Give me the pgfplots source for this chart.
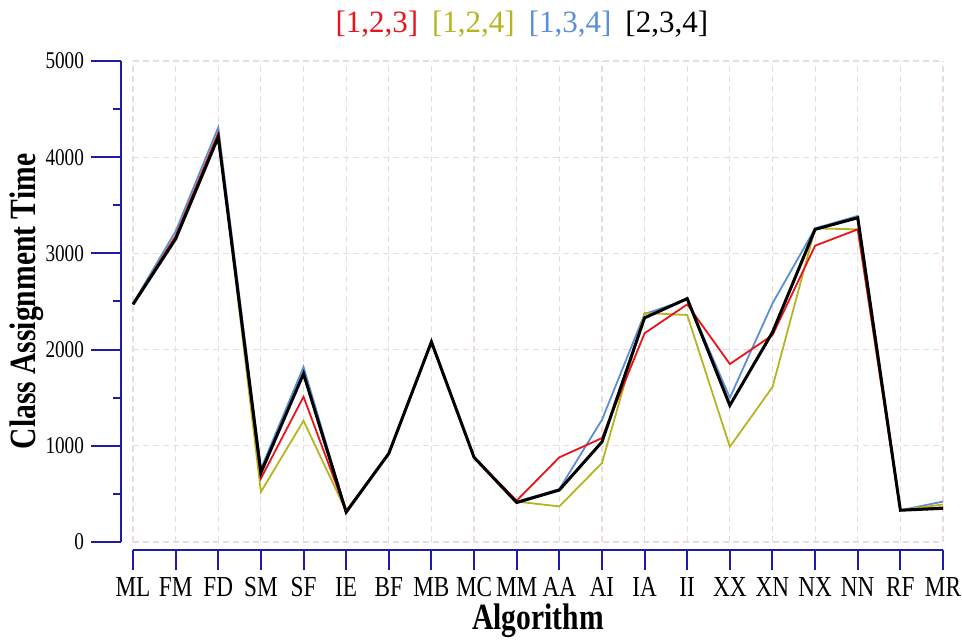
\documentclass[border=0pt]{standalone}
\usepackage{fontspec}
\setmainfont{Liberation Serif}
\newfontfamily\narrow[FakeStretch=0.8]{Liberation Serif}
\usepackage{pgfplots}
\pgfplotsset{compat=1.18}
\usetikzlibrary{calc}

\definecolor{axisblue}{HTML}{1C1CA8}
\definecolor{gridc}{HTML}{E8DCDF}
\definecolor{lred}{HTML}{E8141C}
\definecolor{lyel}{HTML}{B5B520}
\definecolor{lblue}{HTML}{5B8FD6}

\pgfplotsset{
  base/.style={
    scale only axis,
    width=405pt, height=240.5pt,
    xmin=0, xmax=19, ymin=0, ymax=5000,
    ytick={0,1000,...,5000},
    tick align=outside,
    clip=false,
  },
}

\begin{document}
\begin{tikzpicture}
% data, grid and the x axis
\begin{axis}[
  base,
  xtick={0,...,19},
  xticklabels={ML,FM,FD,SM,SF,IE,BF,MB,MC,MM,AA,AI,IA,II,XX,XN,NX,NN,RF,MR},
  separate axis lines,
  axis x line*=bottom,
  axis y line*=left,
  x axis line style={draw=axisblue, line width=1.1pt, -, yshift=-4pt},
  y axis line style={draw=none},
  major tick length=10pt,
  xtick style={draw=axisblue, line width=1pt, yshift=-4pt},
  ytick style={draw=none},
  yticklabels={},
  xticklabel shift=4pt,
  grid=major,
  major grid style={gridc, densely dashed, line width=0.6pt},
  xticklabel style={font=\narrow\fontsize{14.5}{14.5}\selectfont},
  xlabel={Algorithm},
  every axis x label/.style={at={(axis description cs:0.5,0)}, anchor=base, yshift=-44pt, font=\narrow\bfseries\fontsize{18.5}{18.5}\selectfont},
  title={\textcolor{lred}{[1,2,3]}\hspace{7pt}\textcolor{lyel}{[1,2,4]}\hspace{7pt}\textcolor{lblue}{[1,3,4]}\hspace{7pt}[2,3,4]},
  title style={at={(axis description cs:0.48,1)}, anchor=base, yshift=8pt, font=\fontsize{15.5}{15.5}\selectfont},
]
\addplot[lblue, line width=0.9pt] coordinates {
(0,2480) (1,3230) (2,4310) (3,760) (4,1820) (5,320) (6,920) (7,2090) (8,880) (9,420)
(10,550) (11,1270) (12,2370) (13,2520) (14,1500) (15,2480) (16,3260) (17,3390) (18,330) (19,420)
};
\addplot[lyel, line width=0.9pt] coordinates {
(0,2470) (1,3180) (2,4250) (3,520) (4,1260) (5,320) (6,920) (7,2080) (8,880) (9,420)
(10,370) (11,820) (12,2380) (13,2360) (14,990) (15,1610) (16,3260) (17,3250) (18,330) (19,390)
};
\addplot[lred, line width=0.9pt] coordinates {
(0,2470) (1,3180) (2,4250) (3,660) (4,1510) (5,320) (6,920) (7,2080) (8,880) (9,430)
(10,880) (11,1080) (12,2170) (13,2470) (14,1850) (15,2150) (16,3080) (17,3250) (18,330) (19,360)
};
\addplot[black, line width=1.5pt] coordinates {
(0,2470) (1,3150) (2,4210) (3,720) (4,1750) (5,310) (6,920) (7,2080) (8,880) (9,410)
(10,540) (11,1040) (12,2330) (13,2530) (14,1420) (15,2180) (16,3250) (17,3370) (18,330) (19,350)
};
\coordinate (sw) at (rel axis cs:0,0);
\coordinate (ne) at (rel axis cs:1,1);
\end{axis}
% the y axis, set a little to the left
\begin{axis}[
  base,
  xtick=\empty,
  minor ytick={500,1500,...,4500},
  axis x line=none,
  axis y line*=left,
  y axis line style={draw=axisblue, line width=1.1pt, -, xshift=-6pt},
  major tick length=15pt, minor tick length=4pt,
  ytick style={draw=axisblue, line width=1pt, xshift=-6pt},
  yticklabel shift=6pt,
  /pgf/number format/assume math mode=true,
  /pgf/number format/1000 sep={},
  yticklabel style={font=\narrow\fontsize{12}{12}\selectfont},
  ylabel={Class Assignment Time},
  every axis y label/.style={at={(axis description cs:0,0.5)}, xshift=-53pt, rotate=90, anchor=center, font=\narrow\bfseries\fontsize{18.5}{18.5}\selectfont},
]
\end{axis}
\pgfresetboundingbox
\path[use as bounding box] ($(sw)+(-66.5pt,-51pt)$) rectangle ($(ne)+(9.5pt,30.5pt)$);
\end{tikzpicture}
\end{document}
